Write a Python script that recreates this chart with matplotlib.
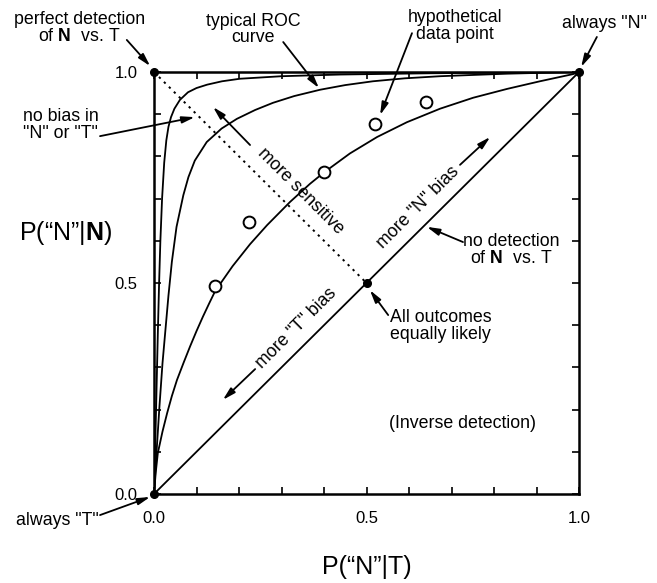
import matplotlib
matplotlib.use('Agg')
import matplotlib.pyplot as plt

plt.rcParams['font.family'] = ['Liberation Sans', 'DejaVu Sans']
plt.rcParams['mathtext.fontset'] = 'custom'
plt.rcParams['mathtext.bf'] = 'Liberation Sans:bold'
plt.rcParams['mathtext.rm'] = 'Liberation Sans'

# ROC curves: P("N"|T) -> P("N"|N)
roc_hi_x = [0.0, 0.003, 0.006, 0.009, 0.012, 0.015, 0.019, 0.024, 0.029, 0.034, 0.040, 0.048,
            0.061, 0.080, 0.100, 0.125, 0.160, 0.202, 0.300, 0.438, 0.650, 1.0]
roc_hi_y = [0.0, 0.120, 0.250, 0.380, 0.500, 0.600, 0.700, 0.785, 0.838, 0.870, 0.893, 0.913,
            0.934, 0.952, 0.962, 0.970, 0.978, 0.984, 0.990, 0.994, 0.997, 1.0]

roc_mid_x = [0.0, 0.006, 0.013, 0.020, 0.034, 0.042, 0.053, 0.069, 0.081, 0.096, 0.124, 0.159,
             0.195, 0.238, 0.280, 0.330, 0.391, 0.450, 0.515, 0.590, 0.673, 0.750, 0.831, 0.910, 1.0]
roc_mid_y = [0.0, 0.100, 0.210, 0.310, 0.470, 0.550, 0.633, 0.708, 0.751, 0.790, 0.834, 0.866,
             0.889, 0.910, 0.927, 0.943, 0.958, 0.969, 0.978, 0.985, 0.990, 0.993, 0.996, 0.998, 1.0]

roc_low_x = [0.0, 0.004, 0.009, 0.020, 0.031, 0.042, 0.054, 0.070, 0.085, 0.100, 0.115, 0.130,
             0.144, 0.185, 0.226, 0.266, 0.320, 0.367, 0.400, 0.461, 0.525, 0.595, 0.673, 0.751,
             0.831, 0.908, 0.986, 1.0]
roc_low_y = [0.0, 0.050, 0.097, 0.148, 0.192, 0.232, 0.270, 0.312, 0.350, 0.386, 0.420, 0.452,
             0.481, 0.540, 0.592, 0.637, 0.692, 0.735, 0.762, 0.807, 0.846, 0.881, 0.913, 0.939,
             0.960, 0.978, 0.995, 1.0]

# hypothetical data points
data_x = [0.143, 0.223, 0.399, 0.521, 0.641]
data_y = [0.494, 0.644, 0.762, 0.876, 0.929]

# special points: always "T", perfect detection, always "N", all outcomes equally likely
special_x = [0.0, 0.0, 1.0, 0.5]
special_y = [0.0, 1.0, 1.0, 0.5]

tick_vals = [round(0.1 * i, 1) for i in range(11)]
tick_labels = ['0.0', '', '', '', '', '0.5', '', '', '', '', '1.0']

fig = plt.figure(figsize=(6.57, 5.83), dpi=100)
ax = fig.add_axes([0.2344, 0.1527, 0.6469, 0.7238])

lw = 1.3
ax.plot(roc_hi_x, roc_hi_y, color='black', lw=lw)
ax.plot(roc_mid_x, roc_mid_y, color='black', lw=lw)
ax.plot(roc_low_x, roc_low_y, color='black', lw=lw)
ax.plot([0, 1], [0, 1], color='black', lw=lw)
ax.plot([0, 0.5], [1, 0.5], color='black', lw=1.4, linestyle=(0, (1.2, 2.4)))
ax.plot(data_x, data_y, 'o', ms=8.5, mfc='white', mec='black', mew=1.4, zorder=5)
ax.plot(special_x, special_y, 'o', ms=5.5, color='black', zorder=6, clip_on=False)

ax.set_xlim(0, 1)
ax.set_ylim(0, 1)
ax.set_xticks(tick_vals)
ax.set_xticklabels(tick_labels)
ax.set_yticks(tick_vals)
ax.set_yticklabels(tick_labels)
ax.tick_params(direction='in', top=True, right=True, length=5, width=1.2,
               labelsize=12, pad=12)
for sp in ax.spines.values():
    sp.set_linewidth(1.8)

ax.set_xlabel('P(\u201cN\u201d|T)', fontsize=18)
ax.xaxis.set_label_coords(0.5, -0.173)
ax.xaxis.label.set_va('center')
ax.set_ylabel('P(\u201cN\u201d|$\\mathbf{N}$)', fontsize=18, rotation=0)
ax.yaxis.set_label_coords(-0.209, 0.618)
ax.yaxis.label.set_va('center')
ax.yaxis.label.set_ha('center')

fs = 12.8
arrow = dict(arrowstyle='-|>,head_length=0.75,head_width=0.2', color='black',
             lw=1.3, shrinkA=0, shrinkB=0)


def label(txt, x, y, **kw):
    kw.setdefault('ha', 'center')
    ax.text(x, y, txt, fontsize=fs, va='center', linespacing=0.95,
            clip_on=False, **kw)


def pointer(tail, head):
    ax.annotate('', xy=head, xytext=tail, arrowprops=arrow,
                annotation_clip=False)


label('perfect detection\nof $\\mathbf{N}$  vs. T', -0.176, 1.104)
pointer((-0.064, 1.076), (-0.009, 1.014))

label('typical ROC\ncurve', 0.233, 1.100)
pointer((0.304, 1.071), (0.388, 0.962))

label('hypothetical\ndata point', 0.708, 1.109)
pointer((0.607, 1.092), (0.532, 0.898))

label('always "N"', 1.059, 1.116)
pointer((1.042, 1.083), (1.005, 1.012))

label('no bias in\n"N" or "T"', -0.219, 0.874)
pointer((-0.127, 0.848), (0.096, 0.893))

label('more sensitive', 0.346, 0.718, rotation=-45, rotation_mode='anchor')
pointer((0.226, 0.827), (0.139, 0.917))

label('more "N" bias', 0.621, 0.680, rotation=45, rotation_mode='anchor')
pointer((0.720, 0.780), (0.791, 0.846))

label('more "T" bias', 0.336, 0.393, rotation=45, rotation_mode='anchor')
pointer((0.238, 0.296), (0.162, 0.223))

label('no detection\nof $\\mathbf{N}$  vs. T', 0.840, 0.578)
pointer((0.727, 0.597), (0.642, 0.633))

label('All outcomes\nequally likely', 0.555, 0.398, ha='left')
pointer((0.551, 0.424), (0.508, 0.483))

label('(Inverse detection)', 0.725, 0.168)

label('always "T"', -0.228, -0.062)
pointer((-0.127, -0.050), (-0.009, -0.007))

fig.savefig('out.png', dpi=100)
